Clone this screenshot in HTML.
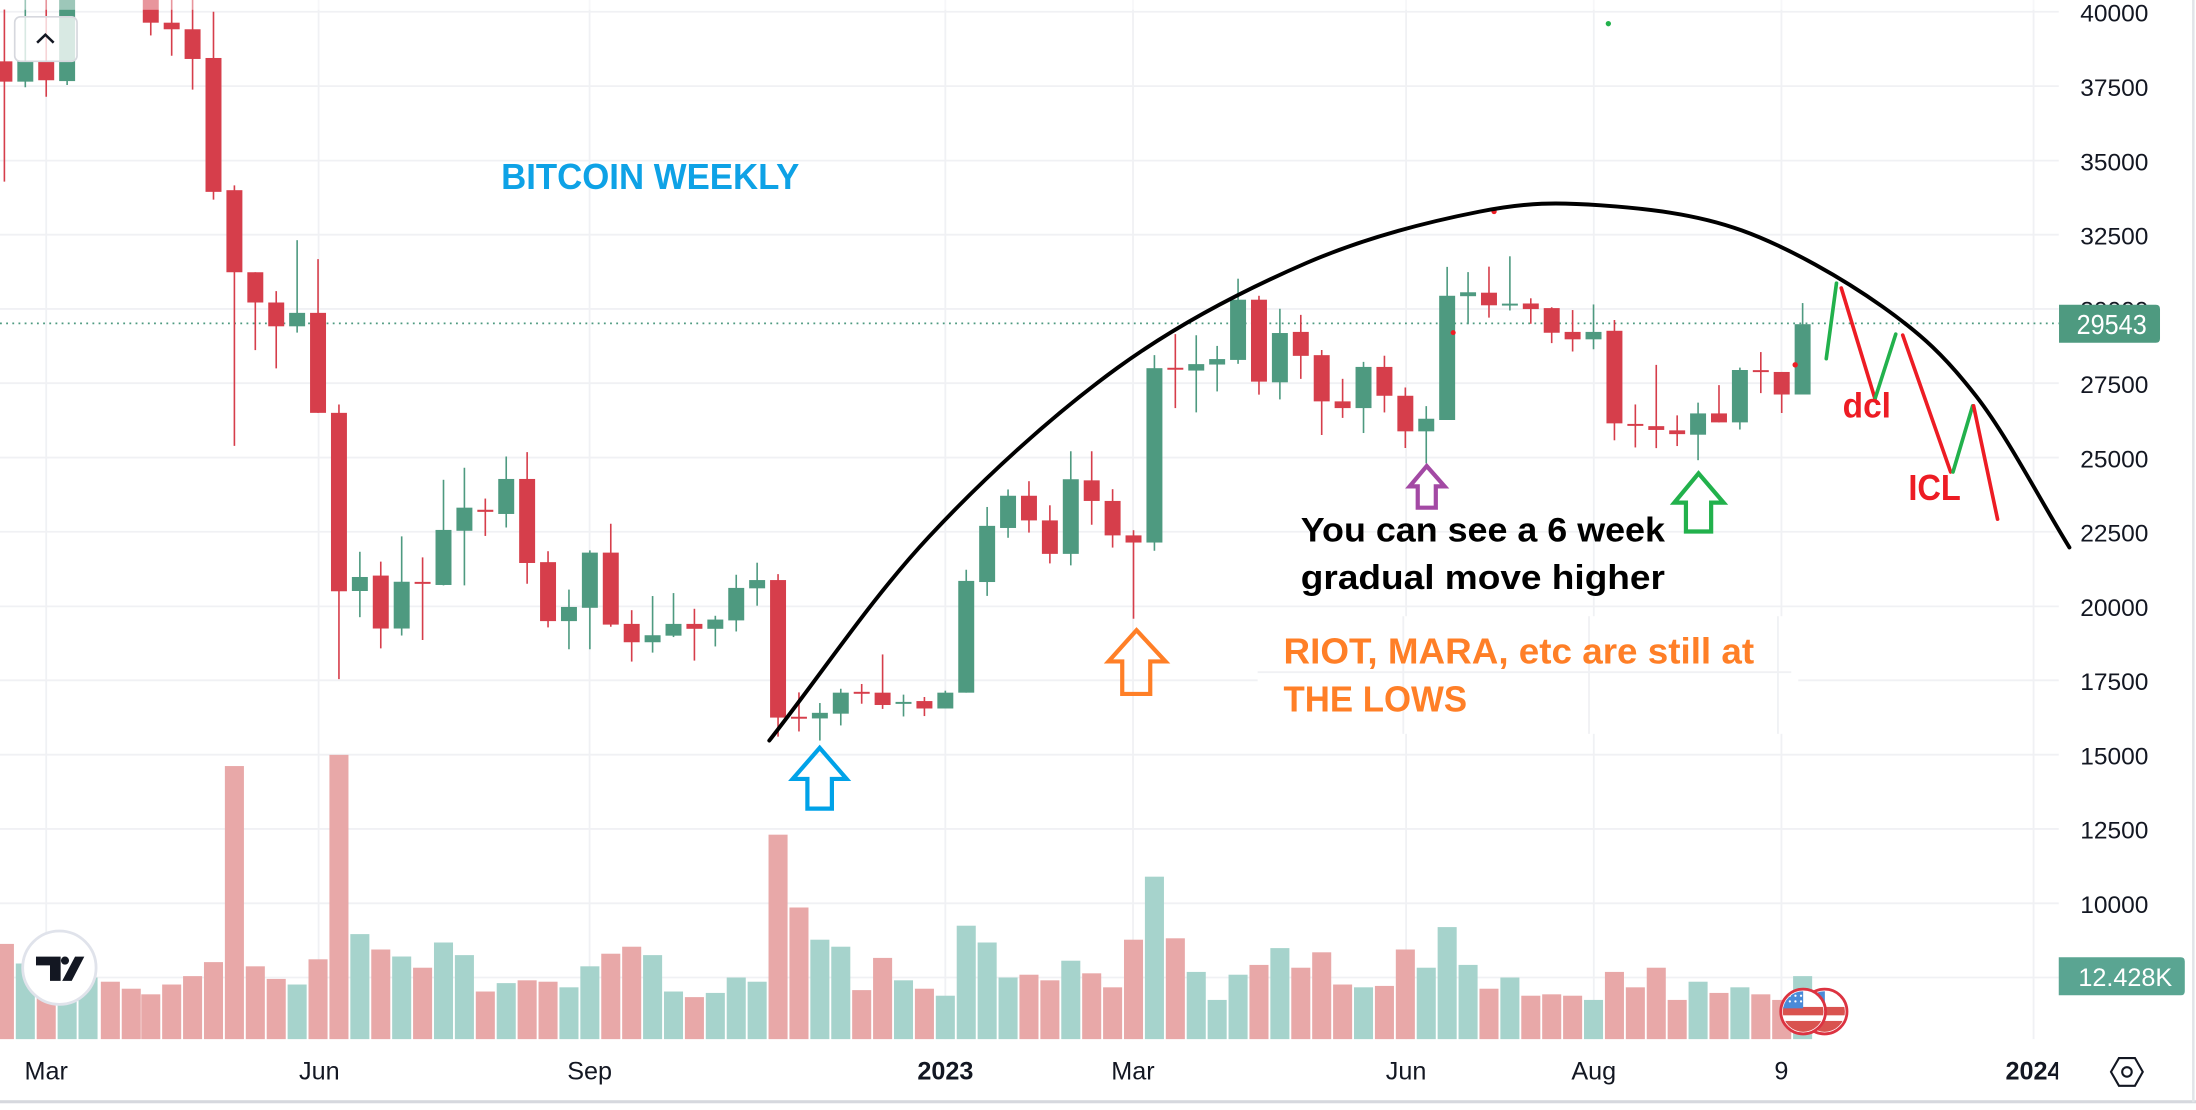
<!DOCTYPE html>
<html><head><meta charset="utf-8"><style>html,body{margin:0;padding:0;background:#fff;overflow:hidden}svg{display:block}</style></head>
<body>
<svg xmlns="http://www.w3.org/2000/svg" width="2196" height="1110" viewBox="0 0 1568 792.6" preserveAspectRatio="none" font-family="'Liberation Sans', sans-serif">
<rect x="0" y="0" width="1568" height="792.6" fill="#ffffff"/>
<g stroke="#f0f1f4" stroke-width="1.3">
<line x1="0" y1="8.4" x2="1470" y2="8.4"/>
<line x1="0" y1="61.5" x2="1470" y2="61.5"/>
<line x1="0" y1="114.7" x2="1470" y2="114.7"/>
<line x1="0" y1="167.6" x2="1470" y2="167.6"/>
<line x1="0" y1="220.6" x2="1470" y2="220.6"/>
<line x1="0" y1="273.6" x2="1470" y2="273.6"/>
<line x1="0" y1="326.7" x2="1470" y2="326.7"/>
<line x1="0" y1="379.7" x2="1470" y2="379.7"/>
<line x1="0" y1="433" x2="1470" y2="433"/>
<line x1="0" y1="485.8" x2="1470" y2="485.8"/>
<line x1="0" y1="538.9" x2="1470" y2="538.9"/>
<line x1="0" y1="591.9" x2="1470" y2="591.9"/>
<line x1="0" y1="645" x2="1470" y2="645"/>
<line x1="0" y1="698" x2="1470" y2="698"/>
</g>
<g stroke="#f0f1f4" stroke-width="1.3">
<line x1="33" y1="0" x2="33" y2="742"/>
<line x1="227.5" y1="0" x2="227.5" y2="742"/>
<line x1="421" y1="0" x2="421" y2="742"/>
<line x1="675" y1="0" x2="675" y2="742"/>
<line x1="809" y1="0" x2="809" y2="742"/>
<line x1="1004" y1="0" x2="1004" y2="742"/>
<line x1="1138" y1="0" x2="1138" y2="742"/>
<line x1="1272" y1="0" x2="1272" y2="742"/>
<line x1="1452" y1="0" x2="1452" y2="742"/>
</g>
<rect x="898" y="440" width="386" height="84" fill="#fff"/>
<line x1="898" y1="480" x2="1279" y2="480" stroke="#f0f1f4" stroke-width="1.3"/>
<g stroke="#f0f1f4" stroke-width="1.3"><line x1="1002" y1="440" x2="1002" y2="524"/><line x1="1134.6" y1="440" x2="1134.6" y2="524"/><line x1="1269.5" y1="440" x2="1269.5" y2="524"/></g>

<g fill="#e8a8a8">
<rect x="-3.66" y="674" width="13.6" height="68"/>
<rect x="26.2" y="702" width="13.6" height="40"/>
<rect x="71.99" y="701" width="13.6" height="41"/>
<rect x="86.92" y="706" width="13.6" height="36"/>
<rect x="100.85" y="710" width="13.6" height="32"/>
<rect x="115.78" y="703" width="13.6" height="39"/>
<rect x="130.71" y="697" width="13.6" height="45"/>
<rect x="145.64" y="687" width="13.6" height="55"/>
<rect x="160.57" y="547" width="13.6" height="195"/>
<rect x="175.5" y="690" width="13.6" height="52"/>
<rect x="190.43" y="699" width="13.6" height="43"/>
<rect x="220.29" y="685" width="13.6" height="57"/>
<rect x="235.22" y="539" width="13.6" height="203"/>
<rect x="265.08" y="678" width="13.6" height="64"/>
<rect x="294.94" y="691" width="13.6" height="51"/>
<rect x="339.73" y="708" width="13.6" height="34"/>
<rect x="369.59" y="700" width="13.6" height="42"/>
<rect x="384.52" y="701" width="13.6" height="41"/>
<rect x="429.31" y="681" width="13.6" height="61"/>
<rect x="444.24" y="676" width="13.6" height="66"/>
<rect x="489.03" y="712" width="13.6" height="30"/>
<rect x="548.75" y="596" width="13.6" height="146"/>
<rect x="563.68" y="648" width="13.6" height="94"/>
<rect x="608.47" y="707" width="13.6" height="35"/>
<rect x="623.4" y="684" width="13.6" height="58"/>
<rect x="653.26" y="706" width="13.6" height="36"/>
<rect x="727.91" y="696" width="13.6" height="46"/>
<rect x="742.84" y="700" width="13.6" height="42"/>
<rect x="772.7" y="695" width="13.6" height="47"/>
<rect x="787.63" y="705" width="13.6" height="37"/>
<rect x="802.56" y="671" width="13.6" height="71"/>
<rect x="832.42" y="670" width="13.6" height="72"/>
<rect x="892.14" y="689" width="13.6" height="53"/>
<rect x="922" y="691" width="13.6" height="51"/>
<rect x="936.93" y="680" width="13.6" height="62"/>
<rect x="951.86" y="703" width="13.6" height="39"/>
<rect x="981.72" y="704" width="13.6" height="38"/>
<rect x="996.65" y="678" width="13.6" height="64"/>
<rect x="1056.37" y="706" width="13.6" height="36"/>
<rect x="1086.23" y="711" width="13.6" height="31"/>
<rect x="1101.16" y="710" width="13.6" height="32"/>
<rect x="1116.09" y="711" width="13.6" height="31"/>
<rect x="1145.95" y="694" width="13.6" height="48"/>
<rect x="1160.88" y="705" width="13.6" height="37"/>
<rect x="1175.81" y="691" width="13.6" height="51"/>
<rect x="1190.74" y="714" width="13.6" height="28"/>
<rect x="1220.6" y="709" width="13.6" height="33"/>
<rect x="1250.46" y="710" width="13.6" height="32"/>
<rect x="1265.39" y="714" width="13.6" height="28"/>
</g>
<g fill="#a6d3cc">
<rect x="11.27" y="688" width="13.6" height="54"/>
<rect x="41.13" y="700" width="13.6" height="42"/>
<rect x="56.06" y="698" width="13.6" height="44"/>
<rect x="205.36" y="703" width="13.6" height="39"/>
<rect x="250.15" y="667" width="13.6" height="75"/>
<rect x="280.01" y="683" width="13.6" height="59"/>
<rect x="309.87" y="673" width="13.6" height="69"/>
<rect x="324.8" y="682" width="13.6" height="60"/>
<rect x="354.66" y="702" width="13.6" height="40"/>
<rect x="399.45" y="705" width="13.6" height="37"/>
<rect x="414.38" y="690" width="13.6" height="52"/>
<rect x="459.17" y="682" width="13.6" height="60"/>
<rect x="474.1" y="708" width="13.6" height="34"/>
<rect x="503.96" y="709" width="13.6" height="33"/>
<rect x="518.89" y="698" width="13.6" height="44"/>
<rect x="533.82" y="701" width="13.6" height="41"/>
<rect x="578.61" y="671" width="13.6" height="71"/>
<rect x="593.54" y="676" width="13.6" height="66"/>
<rect x="638.33" y="700" width="13.6" height="42"/>
<rect x="668.19" y="711" width="13.6" height="31"/>
<rect x="683.12" y="661" width="13.6" height="81"/>
<rect x="698.05" y="673" width="13.6" height="69"/>
<rect x="712.98" y="698" width="13.6" height="44"/>
<rect x="757.77" y="686" width="13.6" height="56"/>
<rect x="817.49" y="626" width="13.6" height="116"/>
<rect x="847.35" y="694" width="13.6" height="48"/>
<rect x="862.28" y="714" width="13.6" height="28"/>
<rect x="877.21" y="696" width="13.6" height="46"/>
<rect x="907.07" y="677" width="13.6" height="65"/>
<rect x="966.79" y="705" width="13.6" height="37"/>
<rect x="1011.58" y="691" width="13.6" height="51"/>
<rect x="1026.51" y="662" width="13.6" height="80"/>
<rect x="1041.44" y="689" width="13.6" height="53"/>
<rect x="1071.3" y="698" width="13.6" height="44"/>
<rect x="1131.02" y="714" width="13.6" height="28"/>
<rect x="1205.67" y="701" width="13.6" height="41"/>
<rect x="1235.53" y="705" width="13.6" height="37"/>
<rect x="1280.32" y="697" width="13.6" height="45"/>
</g>

<line x1="0" y1="230.9" x2="1470" y2="230.9" stroke="#4e9a80" stroke-width="1.3" stroke-dasharray="1.3 3.1"/>

<g stroke="#d63e4b" stroke-width="1.15">
<line x1="3.14" y1="6.7" x2="3.14" y2="129.7"/>
<line x1="33" y1="0" x2="33" y2="69.1"/>
<line x1="107.65" y1="0" x2="107.65" y2="25.3"/>
<line x1="122.58" y1="0" x2="122.58" y2="39.8"/>
<line x1="137.51" y1="0" x2="137.51" y2="64"/>
<line x1="152.44" y1="8.4" x2="152.44" y2="142.5"/>
<line x1="167.37" y1="132.4" x2="167.37" y2="318.4"/>
<line x1="182.3" y1="194.4" x2="182.3" y2="250"/>
<line x1="197.23" y1="207.9" x2="197.23" y2="263"/>
<line x1="227.09" y1="185" x2="227.09" y2="294.8"/>
<line x1="242.02" y1="288.8" x2="242.02" y2="484.9"/>
<line x1="271.88" y1="401" x2="271.88" y2="463"/>
<line x1="301.74" y1="398" x2="301.74" y2="457"/>
<line x1="346.53" y1="356" x2="346.53" y2="382.7"/>
<line x1="376.39" y1="322.8" x2="376.39" y2="416.8"/>
<line x1="391.32" y1="393.6" x2="391.32" y2="448"/>
<line x1="436.11" y1="374" x2="436.11" y2="447.5"/>
<line x1="451.04" y1="435.7" x2="451.04" y2="472.4"/>
<line x1="495.83" y1="434.7" x2="495.83" y2="471.7"/>
<line x1="555.55" y1="410" x2="555.55" y2="526"/>
<line x1="570.48" y1="494.4" x2="570.48" y2="522.3"/>
<line x1="615.27" y1="488.4" x2="615.27" y2="502.5"/>
<line x1="630.2" y1="467.3" x2="630.2" y2="506.2"/>
<line x1="660.06" y1="497.7" x2="660.06" y2="511.3"/>
<line x1="734.71" y1="343.6" x2="734.71" y2="380.3"/>
<line x1="749.64" y1="360.8" x2="749.64" y2="402.3"/>
<line x1="779.5" y1="322.2" x2="779.5" y2="374.7"/>
<line x1="794.43" y1="349.3" x2="794.43" y2="391"/>
<line x1="809.36" y1="378.6" x2="809.36" y2="441.8"/>
<line x1="839.22" y1="238.6" x2="839.22" y2="291.4"/>
<line x1="898.94" y1="211.2" x2="898.94" y2="281.8"/>
<line x1="928.8" y1="224.8" x2="928.8" y2="270.5"/>
<line x1="943.73" y1="249.9" x2="943.73" y2="310.6"/>
<line x1="958.66" y1="270.5" x2="958.66" y2="298.4"/>
<line x1="988.52" y1="254" x2="988.52" y2="294.5"/>
<line x1="1003.45" y1="276.7" x2="1003.45" y2="319.9"/>
<line x1="1063.17" y1="190.4" x2="1063.17" y2="226.8"/>
<line x1="1093.03" y1="213" x2="1093.03" y2="231.2"/>
<line x1="1107.96" y1="219.4" x2="1107.96" y2="245"/>
<line x1="1122.89" y1="221.4" x2="1122.89" y2="251"/>
<line x1="1152.75" y1="228.5" x2="1152.75" y2="314.4"/>
<line x1="1167.68" y1="288.8" x2="1167.68" y2="319.5"/>
<line x1="1182.61" y1="260.5" x2="1182.61" y2="320"/>
<line x1="1197.54" y1="296.6" x2="1197.54" y2="318.5"/>
<line x1="1227.4" y1="275" x2="1227.4" y2="301.6"/>
<line x1="1257.26" y1="251.4" x2="1257.26" y2="280.7"/>
<line x1="1272.19" y1="265.6" x2="1272.19" y2="294.9"/>
</g>
<g fill="#d63e4b">
<rect x="-2.56" y="43.8" width="11.4" height="14.5"/>
<rect x="27.3" y="43.8" width="11.4" height="13.5"/>
<rect x="101.95" y="0" width="11.4" height="16.2"/>
<rect x="116.88" y="16.2" width="11.4" height="4.7"/>
<rect x="131.81" y="20.9" width="11.4" height="21.2"/>
<rect x="146.74" y="41.4" width="11.4" height="95.6"/>
<rect x="161.67" y="135.8" width="11.4" height="58.6"/>
<rect x="176.6" y="194.4" width="11.4" height="21.6"/>
<rect x="191.53" y="216" width="11.4" height="17"/>
<rect x="221.39" y="223.4" width="11.4" height="71.4"/>
<rect x="236.32" y="294.8" width="11.4" height="127.4"/>
<rect x="266.18" y="411" width="11.4" height="37.8"/>
<rect x="296.04" y="415.5" width="11.4" height="1.4"/>
<rect x="340.83" y="364" width="11.4" height="1.5"/>
<rect x="370.69" y="342" width="11.4" height="60"/>
<rect x="385.62" y="401.4" width="11.4" height="42.1"/>
<rect x="430.41" y="394.6" width="11.4" height="51.4"/>
<rect x="445.34" y="445.5" width="11.4" height="13.1"/>
<rect x="490.13" y="445.5" width="11.4" height="3.5"/>
<rect x="549.85" y="414.2" width="11.4" height="98.2"/>
<rect x="564.78" y="511.8" width="11.4" height="1.4"/>
<rect x="609.57" y="494" width="11.4" height="1.4"/>
<rect x="624.5" y="494.6" width="11.4" height="8.8"/>
<rect x="654.36" y="500.6" width="11.4" height="5.3"/>
<rect x="729.01" y="354" width="11.4" height="17.6"/>
<rect x="743.94" y="371.6" width="11.4" height="23.9"/>
<rect x="773.8" y="343" width="11.4" height="14.7"/>
<rect x="788.73" y="357.7" width="11.4" height="24.6"/>
<rect x="803.66" y="382.3" width="11.4" height="5.1"/>
<rect x="833.52" y="262.6" width="11.4" height="1.4"/>
<rect x="893.24" y="214" width="11.4" height="58.5"/>
<rect x="923.1" y="237" width="11.4" height="17.1"/>
<rect x="938.03" y="253.6" width="11.4" height="33"/>
<rect x="952.96" y="286.6" width="11.4" height="4.8"/>
<rect x="982.82" y="262" width="11.4" height="20.6"/>
<rect x="997.75" y="282.6" width="11.4" height="25.4"/>
<rect x="1057.47" y="209" width="11.4" height="9"/>
<rect x="1087.33" y="216.7" width="11.4" height="4"/>
<rect x="1102.26" y="220" width="11.4" height="17.6"/>
<rect x="1117.19" y="237" width="11.4" height="5.3"/>
<rect x="1147.05" y="236.2" width="11.4" height="66.1"/>
<rect x="1161.98" y="302.7" width="11.4" height="1.4"/>
<rect x="1176.91" y="304.3" width="11.4" height="2.7"/>
<rect x="1191.84" y="307.3" width="11.4" height="2.7"/>
<rect x="1221.7" y="295.2" width="11.4" height="6.4"/>
<rect x="1251.56" y="264.3" width="11.4" height="1.4"/>
<rect x="1266.49" y="265.6" width="11.4" height="16.1"/>
</g>
<g stroke="#4e9a80" stroke-width="1.15">
<line x1="18.07" y1="0" x2="18.07" y2="62.3"/>
<line x1="47.93" y1="0" x2="47.93" y2="60.7"/>
<line x1="212.16" y1="171.5" x2="212.16" y2="237.5"/>
<line x1="256.95" y1="394" x2="256.95" y2="440.7"/>
<line x1="286.81" y1="383" x2="286.81" y2="453.8"/>
<line x1="316.67" y1="342.6" x2="316.67" y2="418"/>
<line x1="331.6" y1="334" x2="331.6" y2="418"/>
<line x1="361.46" y1="326" x2="361.46" y2="376.7"/>
<line x1="406.25" y1="421" x2="406.25" y2="463.6"/>
<line x1="421.18" y1="393" x2="421.18" y2="463.6"/>
<line x1="465.97" y1="425.6" x2="465.97" y2="466"/>
<line x1="480.9" y1="423.5" x2="480.9" y2="454.9"/>
<line x1="510.76" y1="439.7" x2="510.76" y2="461.6"/>
<line x1="525.69" y1="410.4" x2="525.69" y2="450.9"/>
<line x1="540.62" y1="401.8" x2="540.62" y2="432.5"/>
<line x1="585.41" y1="502" x2="585.41" y2="528.8"/>
<line x1="600.34" y1="491.8" x2="600.34" y2="518"/>
<line x1="645.13" y1="496" x2="645.13" y2="511.6"/>
<line x1="674.99" y1="493.2" x2="674.99" y2="505.9"/>
<line x1="689.92" y1="406.8" x2="689.92" y2="494.6"/>
<line x1="704.85" y1="362" x2="704.85" y2="425.5"/>
<line x1="719.78" y1="349.5" x2="719.78" y2="384"/>
<line x1="764.57" y1="322.2" x2="764.57" y2="403.7"/>
<line x1="824.29" y1="253.6" x2="824.29" y2="393.3"/>
<line x1="854.15" y1="239.4" x2="854.15" y2="294.5"/>
<line x1="869.08" y1="247" x2="869.08" y2="279.5"/>
<line x1="884.01" y1="199" x2="884.01" y2="259.8"/>
<line x1="913.87" y1="220.5" x2="913.87" y2="285.2"/>
<line x1="973.59" y1="258.4" x2="973.59" y2="309.2"/>
<line x1="1018.38" y1="290" x2="1018.38" y2="330.9"/>
<line x1="1033.31" y1="190.6" x2="1033.31" y2="299.9"/>
<line x1="1048.24" y1="194.3" x2="1048.24" y2="231.5"/>
<line x1="1078.1" y1="183" x2="1078.1" y2="221.7"/>
<line x1="1137.82" y1="217.4" x2="1137.82" y2="249.4"/>
<line x1="1212.47" y1="287.5" x2="1212.47" y2="328.6"/>
<line x1="1242.33" y1="262.5" x2="1242.33" y2="306.7"/>
<line x1="1287.12" y1="216.4" x2="1287.12" y2="281.7"/>
</g>
<g fill="#4e9a80">
<rect x="12.37" y="43.8" width="11.4" height="14.5"/>
<rect x="42.23" y="0" width="11.4" height="57.9"/>
<rect x="206.46" y="223.4" width="11.4" height="9.6"/>
<rect x="251.25" y="412" width="11.4" height="10"/>
<rect x="281.11" y="415.4" width="11.4" height="33.4"/>
<rect x="310.97" y="378.4" width="11.4" height="39.3"/>
<rect x="325.9" y="362.5" width="11.4" height="16.5"/>
<rect x="355.76" y="342" width="11.4" height="25"/>
<rect x="400.55" y="433.4" width="11.4" height="10.1"/>
<rect x="415.48" y="394.6" width="11.4" height="39.4"/>
<rect x="460.27" y="453.6" width="11.4" height="5"/>
<rect x="475.2" y="445.5" width="11.4" height="8.4"/>
<rect x="505.06" y="442.4" width="11.4" height="6.6"/>
<rect x="519.99" y="419.8" width="11.4" height="23.2"/>
<rect x="534.92" y="414.2" width="11.4" height="5.9"/>
<rect x="579.71" y="509" width="11.4" height="4"/>
<rect x="594.64" y="494.6" width="11.4" height="15"/>
<rect x="639.43" y="501.2" width="11.4" height="1.4"/>
<rect x="669.29" y="494.6" width="11.4" height="11.3"/>
<rect x="684.22" y="414.8" width="11.4" height="79.8"/>
<rect x="699.15" y="375.5" width="11.4" height="40.1"/>
<rect x="714.08" y="354" width="11.4" height="23"/>
<rect x="758.87" y="342.2" width="11.4" height="53.3"/>
<rect x="818.59" y="262.9" width="11.4" height="124.5"/>
<rect x="848.45" y="260" width="11.4" height="4.6"/>
<rect x="863.38" y="256.4" width="11.4" height="3.9"/>
<rect x="878.31" y="214" width="11.4" height="43"/>
<rect x="908.17" y="237.8" width="11.4" height="35.2"/>
<rect x="967.89" y="262" width="11.4" height="29.4"/>
<rect x="1012.68" y="299" width="11.4" height="9"/>
<rect x="1027.61" y="211.2" width="11.4" height="88.7"/>
<rect x="1042.54" y="208.7" width="11.4" height="2.8"/>
<rect x="1072.4" y="216.8" width="11.4" height="1.4"/>
<rect x="1132.12" y="237" width="11.4" height="5.3"/>
<rect x="1206.77" y="295.2" width="11.4" height="15.2"/>
<rect x="1236.63" y="264.2" width="11.4" height="37.4"/>
<rect x="1281.42" y="231.5" width="11.4" height="50.2"/>
</g>

<rect x="0" y="0" width="1470" height="7" fill="#fff" opacity="0.45"/>

<circle cx="1037.6" cy="237.5" r="1.8" fill="#ed1c24"/>
<circle cx="1066.8" cy="151" r="1.9" fill="#ed1c24"/>
<circle cx="1281.8" cy="260.5" r="1.9" fill="#ed1c24"/>
<circle cx="1148.4" cy="16.9" r="1.9" fill="#22b14c"/>

<path fill="none" stroke="#000" stroke-width="2.8" stroke-linecap="round" d="M549.3,528.8 C587.3,480.3 621.8,427.8 663.2,383.4 C704.65,339 753.1,295.2 798,262.6 C842.9,230 889.8,206.4 932.8,187.8 C975.8,169.2 1021,158.1 1056,151.2 C1091,144.3 1111.7,144.4 1143,146.6 C1174.3,148.8 1210.1,152.4 1243.6,164.5 C1277.1,176.6 1316.3,199.2 1344.2,219 C1372.1,238.8 1389,254.5 1411.2,283.1 C1433.4,311.8 1455.5,355 1477.6,390.9"/>

<g stroke-width="2.6" stroke-linecap="round" fill="none">
<line x1="1304" y1="256.1" x2="1311.3" y2="202.2" stroke="#22b14c"/>
<line x1="1314.7" y1="205.6" x2="1338.8" y2="284.8" stroke="#ed1c24"/>
<line x1="1338.8" y1="284.8" x2="1353.6" y2="238.6" stroke="#22b14c"/>
<line x1="1358.6" y1="239.3" x2="1392.8" y2="337" stroke="#ed1c24"/>
<line x1="1394.5" y1="337" x2="1408.5" y2="289.8" stroke="#22b14c"/>
<line x1="1409.2" y1="289.8" x2="1426.3" y2="370.7" stroke="#ed1c24"/>
</g>

<g fill="none" stroke-width="3" stroke-linejoin="miter">
<polygon stroke="#00a2e8" points="585.3,534 604.5,556.2 594,556.2 594,577.4 576.5,577.4 576.5,556.2 566,556.2"/>
<polygon stroke="#ff7f27" points="811.5,450 832.2,472.3 821.3,472.3 821.3,495.5 801.3,495.5 801.3,472.3 791.5,472.3"/>
<polygon stroke="#a349a4" points="1018.7,332.8 1031.5,347.3 1025.2,347.3 1025.2,362.5 1012.3,362.5 1012.3,347.3 1006.5,347.3"/>
<polygon stroke="#22b14c" points="1212.8,338 1230.7,358.9 1221.8,358.9 1221.8,379.5 1203.8,379.5 1203.8,358.9 1195.5,358.9"/>
</g>

<g font-weight="bold">
<text x="357.8" y="134.8" font-size="26" fill="#0ea2e6" textLength="213" lengthAdjust="spacingAndGlyphs">BITCOIN WEEKLY</text>
<text x="928.8" y="386.8" font-size="24.5" fill="#000" textLength="260" lengthAdjust="spacingAndGlyphs">You can see a 6 week</text>
<text x="928.8" y="420.7" font-size="24.5" fill="#000" textLength="260" lengthAdjust="spacingAndGlyphs">gradual move higher</text>
<text x="916.5" y="473.6" font-size="26" fill="#ff7f27" textLength="336" lengthAdjust="spacingAndGlyphs">RIOT, MARA, etc are still at</text>
<text x="916.5" y="508.2" font-size="26" fill="#ff7f27" textLength="131" lengthAdjust="spacingAndGlyphs">THE LOWS</text>
<text x="1315.7" y="298.2" font-size="25" fill="#ed1c24" textLength="34.5" lengthAdjust="spacingAndGlyphs">dcl</text>
<text x="1362.6" y="357.2" font-size="25.5" fill="#ed1c24" textLength="37.5" lengthAdjust="spacingAndGlyphs">ICL</text>
</g>

<rect x="10.5" y="12" width="44.5" height="31.8" rx="4" fill="#fff" fill-opacity="0.78" stroke="#d6d8de" stroke-width="1.2"/>
<polyline points="26.5,30.5 32.4,24.8 38.3,30.5" fill="none" stroke="#131722" stroke-width="1.8"/>

<circle cx="42.4" cy="691" r="26.2" fill="#fff" stroke="#e0e3eb" stroke-width="2"/>
<g fill="#131722">
<path d="M25.7,683.1 H43.3 V700.4 H35.7 V689.3 H25.7 Z"/>
<circle cx="46.4" cy="685.9" r="2.9"/>
<path d="M53.6,683.1 H60.2 L51.2,700.4 H44.4 Z"/>
</g>

<defs>
<clipPath id="f2"><circle cx="1302.8" cy="722.3" r="14.5"/></clipPath>
<clipPath id="f1"><circle cx="1287.5" cy="722.3" r="14.5"/></clipPath>
<clipPath id="tclip"><rect x="0" y="740" width="1469.5" height="50"/></clipPath>
</defs>
<circle cx="1302.8" cy="722.3" r="16" fill="#fff" stroke="#dc3341" stroke-width="2"/>
<g clip-path="url(#f2)">
<rect x="1288" y="707" width="30" height="31" fill="#fff"/>
<rect x="1288" y="719" width="30" height="6" fill="#d9534f"/>
<rect x="1288" y="729" width="30" height="8" fill="#d9534f"/>
<rect x="1288" y="707" width="15" height="13" fill="#4a8ad8"/>
</g>
<circle cx="1287.5" cy="722.3" r="16" fill="#fff" stroke="#dc3341" stroke-width="2"/>
<g clip-path="url(#f1)">
<rect x="1272" y="707" width="31" height="31" fill="#fff"/>
<rect x="1272" y="719" width="31" height="6" fill="#d9534f"/>
<rect x="1272" y="729" width="31" height="8" fill="#d9534f"/>
<rect x="1272" y="707" width="15.5" height="13" fill="#4a8ad8"/>
<g fill="#fff"><circle cx="1278" cy="711" r="0.8"/><circle cx="1282" cy="711" r="0.8"/><circle cx="1286" cy="711" r="0.8"/><circle cx="1278" cy="715" r="0.8"/><circle cx="1282" cy="715" r="0.8"/><circle cx="1286" cy="715" r="0.8"/></g>
</g>

<g font-size="17.5" fill="#131722" text-anchor="end">
<text x="1534" y="15.4">40000</text>
<text x="1534" y="68.5">37500</text>
<text x="1534" y="121.7">35000</text>
<text x="1534" y="174.6">32500</text>
<text x="1534" y="227.6">30000</text>
<text x="1534" y="280.6">27500</text>
<text x="1534" y="333.7">25000</text>
<text x="1534" y="386.7">22500</text>
<text x="1534" y="440">20000</text>
<text x="1534" y="492.8">17500</text>
<text x="1534" y="545.9">15000</text>
<text x="1534" y="598.9">12500</text>
<text x="1534" y="652">10000</text>
</g>
<path d="M1470.2,217.6 H1539.3 Q1542.3,217.6 1542.3,220.6 V241.7 Q1542.3,244.7 1539.3,244.7 H1470.2 Z" fill="#4e9a80"/>
<text x="1482.8" y="238.6" font-size="19.5" fill="#fff" textLength="50" lengthAdjust="spacingAndGlyphs">29543</text>
<path d="M1470,683.5 H1557 Q1560,683.5 1560,686.5 V707.7 Q1560,710.7 1557,710.7 H1470 Z" fill="#5aa592"/>
<text x="1484" y="704" font-size="18" fill="#fff" textLength="67" lengthAdjust="spacingAndGlyphs">12.428K</text>

<g font-size="18" fill="#131722" text-anchor="middle" clip-path="url(#tclip)">
<text x="33" y="771">Mar</text>
<text x="228" y="771">Jun</text>
<text x="421" y="771">Sep</text>
<text x="675" y="771" font-weight="bold">2023</text>
<text x="809" y="771">Mar</text>
<text x="1004" y="771">Jun</text>
<text x="1138" y="771">Aug</text>
<text x="1272" y="771">9</text>
<text x="1452" y="771" font-weight="bold">2024</text>
</g>

<polygon points="1507.3,765.4 1513,755.5 1524.4,755.5 1530,765.4 1524.4,775.3 1513,775.3" fill="none" stroke="#131722" stroke-width="1.5"/>
<circle cx="1518.7" cy="765.4" r="3.4" fill="none" stroke="#131722" stroke-width="1.5"/>

<rect x="0" y="785.6" width="1568" height="2.2" fill="#d6d8de"/>
<rect x="1565.2" y="0" width="1.8" height="787" fill="#e2e4e8"/>
</svg>
</body></html>
